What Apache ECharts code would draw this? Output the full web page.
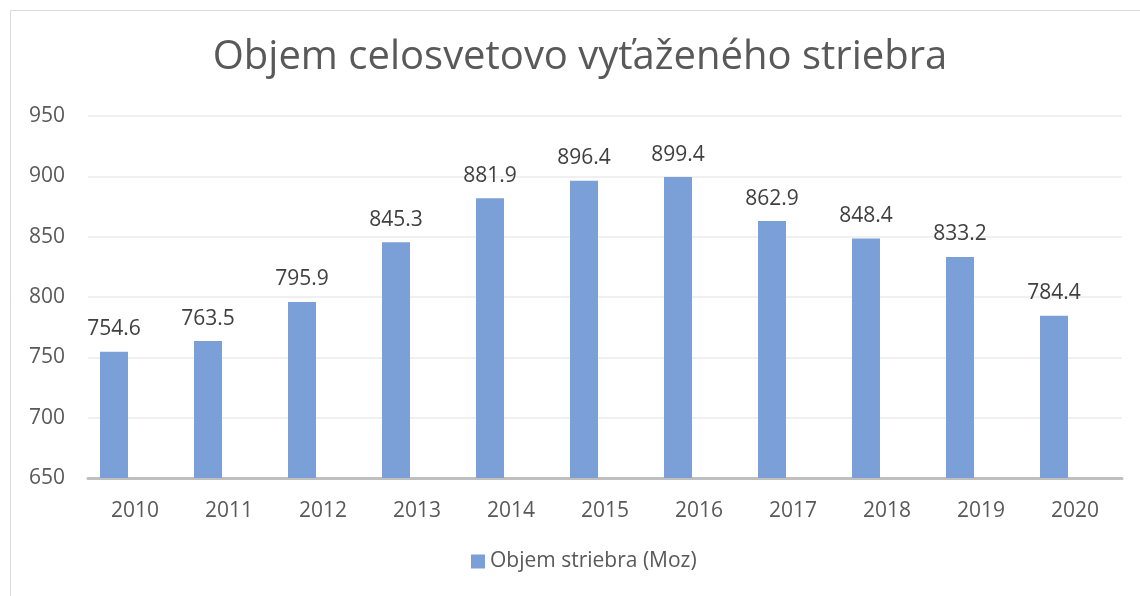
<!DOCTYPE html>
<html>
<head>
<meta charset="utf-8">
<script src="https://cdn.jsdelivr.net/npm/echarts@6/dist/echarts.min.js"></script>
<style>
  html, body { margin: 0; padding: 0; background: #fff; }
  #main { width: 1140px; height: 596px; }
</style>
</head>
<body>
<div id="main"></div>
<script>
// údaje z grafu
const years = ['2010', '2011', '2012', '2013', '2014', '2015', '2016', '2017', '2018', '2019', '2020']
const silverMoz = [754.6, 763.5, 795.9, 845.3, 881.9, 896.4, 899.4, 862.9, 848.4, 833.2, 784.4]
// prázdna druhá séria – v Exceli je stĺpec posunutý vľavo v rámci skupiny
const emptySlot = years.map(() => null)

const font = '"Open Sans", "Noto Sans", sans-serif'
const barColor = '#7b9fd7'

const chart = echarts.init(document.getElementById('main'))
chart.setOption({
  backgroundColor: '#fff',
  animation: false,
  textStyle: { fontFamily: font },
  graphic: [{
    type: 'rect',
    shape: { x: 10.5, y: 10.5, width: 1200, height: 700 },
    style: { fill: 'none', stroke: '#d9d9d9', lineWidth: 1 },
    silent: true
  }],
  title: {
    text: 'Objem celosvetovo vyťaženého striebra',
    left: 580,
    textAlign: 'center',
    top: 38,
    padding: 0,
    textStyle: { fontFamily: font, fontSize: 40, fontWeight: 'normal', color: '#595959' }
  },
  legend: {
    data: ['Objem striebra (Moz)'],
    bottom: 19,
    left: 466,
    itemWidth: 14,
    itemHeight: 14,
    itemGap: 6,
    icon: 'rect',
    textStyle: { fontFamily: font, fontSize: 21, color: '#595959' }
  },
  grid: { left: 88, right: 18, top: 116, bottom: 118, containLabel: false },
  xAxis: {
    type: 'category',
    data: years,
    axisLine: { lineStyle: { color: '#bfbfbf', width: 3 } },
    axisTick: { show: false },
    axisLabel: { fontFamily: font, fontSize: 21, color: '#595959', margin: 23 }
  },
  yAxis: {
    type: 'value',
    min: 650,
    max: 950,
    interval: 50,
    axisLine: { show: false },
    axisTick: { show: false },
    splitLine: { lineStyle: { color: '#ebebeb', width: 1.5 } },
    axisLabel: { fontFamily: font, fontSize: 21, color: '#595959', margin: 23 }
  },
  series: [{
    name: 'Objem striebra (Moz)',
    type: 'bar',
    barWidth: 28,
    barGap: '50%',
    itemStyle: { color: barColor },
    label: {
      show: true,
      position: 'top',
      distance: 12,
      fontFamily: font,
      fontSize: 21,
      color: '#404040'
    },
    data: silverMoz
  }, {
    name: 'prázdne',
    type: 'bar',
    barWidth: 28,
    barGap: '50%',
    data: emptySlot
  }]
})
</script>
</body>
</html>
